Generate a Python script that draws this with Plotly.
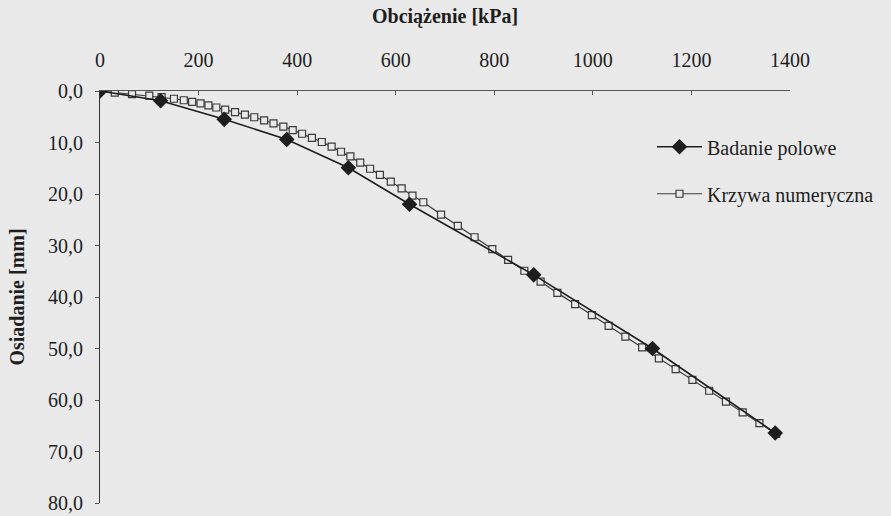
import plotly.graph_objects as go

# Field test (Badanie polowe)
field_load = [0, 123, 252, 379, 504, 628, 880, 1121, 1370]
field_settle = [0.0, 1.9, 5.5, 9.4, 14.9, 22.0, 35.7, 50.0, 66.4]

# Numerical curve (Krzywa numeryczna)
num_load = [0, 30, 65, 100, 125, 150, 170, 187, 204, 220, 236, 254, 274, 294,
            313, 333, 352, 372, 391, 410, 430, 450, 470, 489, 508, 528, 548,
            568, 590, 612, 634, 656, 692, 726, 760, 796, 828, 861, 894, 928,
            964, 998, 1032, 1066, 1100, 1134, 1168, 1202, 1236, 1270, 1304,
            1338, 1372]
num_settle = [0.0, 0.3, 0.6, 0.9, 1.2, 1.5, 1.8, 2.1, 2.4, 2.8, 3.2, 3.6, 4.1,
              4.6, 5.1, 5.7, 6.3, 6.9, 7.6, 8.3, 9.1, 9.9, 10.8, 11.8, 12.7,
              13.9, 15.1, 16.3, 17.6, 18.9, 20.3, 21.6, 24.0, 26.2, 28.4, 30.7,
              32.8, 34.9, 37.0, 39.2, 41.4, 43.5, 45.6, 47.7, 49.8, 51.9, 54.0,
              56.1, 58.2, 60.3, 62.4, 64.5, 66.6]

x_tickvals = [0, 200, 400, 600, 800, 1000, 1200, 1400]
x_ticktext = ["0", "200", "400", "600", "800", "1000", "1200", "1400"]
y_tickvals = [0, 10, 20, 30, 40, 50, 60, 70, 80]
y_ticktext = ["0,0", "10,0", "20,0", "30,0", "40,0", "50,0", "60,0", "70,0", "80,0"]

BG = "#e9e9e9"
INK = "#1e1e1e"
FONT = "Liberation Serif, Times New Roman, DejaVu Serif, serif"

fig = go.Figure()
fig.add_trace(go.Scatter(
    x=num_load, y=num_settle, mode="lines+markers", name="Krzywa numeryczna",
    legendgroup="b", legendrank=2,
    line=dict(color="#3a3a3a", width=1.2),
    marker=dict(symbol="square", size=7, color=BG,
                line=dict(color="#3a3a3a", width=1.2)),
))
fig.add_trace(go.Scatter(
    x=field_load, y=field_settle, mode="lines+markers", name="Badanie polowe",
    legendgroup="a", legendrank=1,
    line=dict(color=INK, width=1.6),
    marker=dict(symbol="diamond", size=12, color=INK),
))

fig.update_layout(
    width=891, height=516,
    margin=dict(l=100, r=97, t=91, b=13),
    paper_bgcolor=BG, plot_bgcolor=BG,
    font=dict(family=FONT, size=20, color=INK),
    showlegend=True,
    legend=dict(
        x=0.80, y=0.912, xanchor="left", yanchor="top",
        bgcolor="rgba(0,0,0,0)", traceorder="grouped", tracegroupgap=18,
        itemwidth=45, font=dict(family=FONT, size=20, color=INK),
    ),
    xaxis=dict(
        range=[0, 1400], side="top", tickvals=x_tickvals, ticktext=x_ticktext,
        showgrid=False, zeroline=False, showline=True, linecolor="#555",
        linewidth=1, ticks="inside", ticklen=4, tickcolor="#555",
        ticklabelstandoff=15, automargin=False,
        title=dict(text="<b>Obciążenie [kPa]</b>", font=dict(family=FONT, size=20), standoff=20),
    ),
    yaxis=dict(
        range=[80, 0], tickvals=y_tickvals, ticktext=y_ticktext,
        showgrid=False, zeroline=False, showline=True, linecolor="#333",
        linewidth=1, ticks="outside", ticklen=4, tickcolor="#555",
        ticklabelstandoff=8, ticklabeloverflow="allow", automargin=False,
        title=dict(text="<b>Osiadanie [mm]</b>", font=dict(family=FONT, size=20), standoff=18),
    ),
)

fig.write_html("out.html")
